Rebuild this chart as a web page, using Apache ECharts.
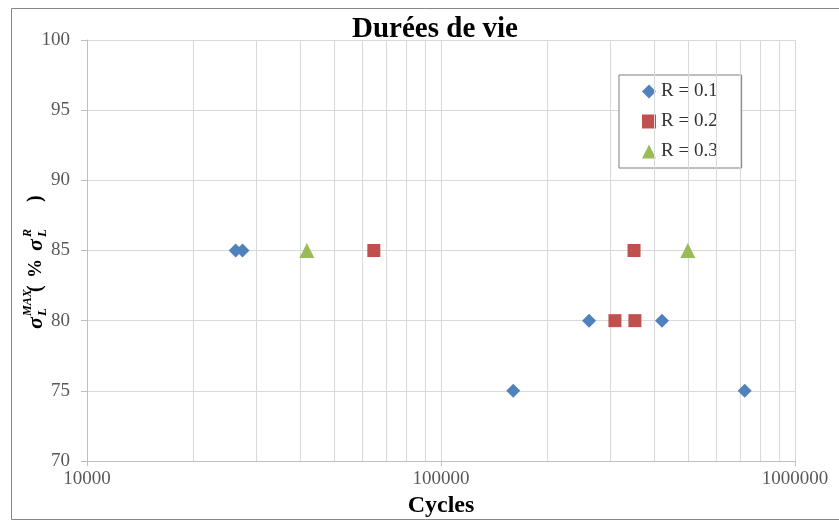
<!DOCTYPE html>
<html>
<head>
<meta charset="utf-8">
<script src="https://cdn.jsdelivr.net/npm/echarts@6/dist/echarts.min.js"></script>
<style>html,body{margin:0;padding:0;background:#fff;}#c{width:839px;height:520px;}</style>
</head>
<body>
<div id="c"></div>
<script>
// ---- data ----
const seriesNames = ['R = 0.1', 'R = 0.2', 'R = 0.3'];
const r01Cycles = [26300, 27500, 160000, 262000, 421000, 721000];
const r01Stress = [85, 85, 75, 80, 80, 75];
const r02Cycles = [64600, 310000, 353000, 351000];
const r02Stress = [85, 80, 80, 85];
const r03Cycles = [41800, 498000];
const r03Stress = [85, 85];
const yTicks = [70, 75, 80, 85, 90, 95, 100];
const xMajorTicks = [10000, 100000, 1000000];
const xMinorGrid = [20000, 30000, 40000, 50000, 60000, 70000, 80000, 90000,
                    200000, 300000, 400000, 500000, 600000, 700000, 800000, 900000];

const serif = '"Liberation Serif", "DejaVu Serif", serif';
const gridColor = '#d9d9d9';
const axisColor = '#bfbfbf';
const labelColor = '#595959';

function pairs(xs, ys) { return xs.map((x, i) => [x, ys[i]]); }

const chart = echarts.init(document.getElementById('c'), null, {renderer: 'canvas'});

function t(txt, x, y, size, extra) {
  return {type: 'text', x: x, y: y, style: {text: txt, font: (extra || 'italic bold') + ' ' + size + 'px ' + serif, fill: '#000', textVerticalAlign: 'middle', textAlign: 'left'}};
}

chart.setOption({
  animation: false,
  backgroundColor: '#fff',
  title: {
    text: 'Durées de vie',
    left: 430, top: 10, textAlign: 'center',
    textStyle: {fontFamily: serif, fontWeight: 'bold', fontSize: 29, color: '#000'}
  },
  grid: {left: 87, top: 40, right: 44, bottom: 59, containLabel: false, outerBoundsMode: 'none'},
  legend: {
    orient: 'vertical',
    left: 619, top: 75,
    padding: [7, 24, 7, 23],
    itemGap: 11, itemWidth: 14, itemHeight: 14, itemTextGap: 4,
    backgroundColor: '#fff',
    borderColor: '#7f7f7f', borderWidth: 1,
    textStyle: {fontFamily: serif, fontSize: 19, lineHeight: 18, color: '#333'},
    data: seriesNames
  },
  xAxis: {
    type: 'log', logBase: 10, min: xMajorTicks[0], max: xMajorTicks[xMajorTicks.length - 1],
    name: 'Cycles', nameLocation: 'middle', nameGap: 33,
    nameTextStyle: {fontFamily: serif, fontWeight: 'bold', fontSize: 24, color: '#000'},
    axisLine: {show: true, lineStyle: {color: axisColor}},
    axisTick: {show: true, inside: false, length: 5, lineStyle: {color: axisColor}},
    axisLabel: {fontFamily: serif, fontSize: 19, color: labelColor, margin: 9,
      formatter: v => String(Math.round(v))},
    splitLine: {show: true, lineStyle: {color: gridColor}}
  },
  yAxis: {
    type: 'value', min: yTicks[0], max: yTicks[yTicks.length - 1], interval: 5,
    axisLine: {show: true, lineStyle: {color: axisColor}},
    axisTick: {show: true, inside: false, length: 6, lineStyle: {color: axisColor}},
    axisLabel: {fontFamily: serif, fontSize: 19, color: labelColor, margin: 17},
    splitLine: {show: true, lineStyle: {color: gridColor}}
  },
  series: [
    {
      name: seriesNames[0], type: 'scatter', symbol: 'diamond', symbolSize: 14,
      itemStyle: {color: '#4F81BD', opacity: 1}, z: 5,
      data: pairs(r01Cycles, r01Stress),
      markLine: {
        silent: true, symbol: 'none', animation: false,
        label: {show: false},
        lineStyle: {color: gridColor, type: 'solid', width: 1},
        emphasis: {disabled: true},
        data: xMinorGrid.map(v => ({xAxis: v}))
      }
    },
    {
      name: seriesNames[1], type: 'scatter', symbol: 'rect', symbolSize: 13,
      itemStyle: {color: '#C0504D', opacity: 1}, z: 5,
      data: pairs(r02Cycles, r02Stress)
    },
    {
      name: seriesNames[2], type: 'scatter', symbol: 'triangle', symbolSize: 15,
      itemStyle: {color: '#9BBB59', opacity: 1}, z: 5,
      data: pairs(r03Cycles, r03Stress)
    }
  ],
  graphic: [
    {type: 'rect', left: 9, top: 6, silent: true, z: -10,
      shape: {x: 0, y: 0, width: 840, height: 511},
      style: {fill: 'none', stroke: '#868686', lineWidth: 1}},
    {type: 'group', x: 36, y: 329, rotation: Math.PI / 2, silent: true,
      children: [
        t('σ', 0, 0, 22),
        t('MAX', 13, -8, 12),
        t('L', 13, 7, 13),
        t('(', 37, 0, 20, 'bold'),
        t('%', 51, 0, 19, 'bold'),
        t('σ', 78, 0, 22),
        t('R', 92, -8, 12),
        t('L', 92, 7, 13),
        t(')', 127, 0, 20, 'bold')
      ]}
  ]
});
</script>
</body>
</html>
